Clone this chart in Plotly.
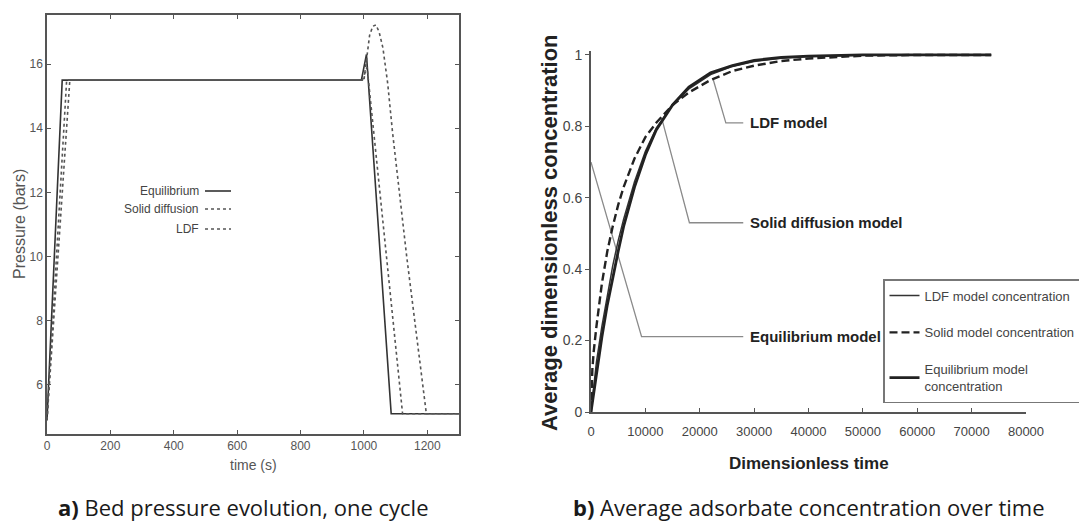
import plotly.graph_objects as go

# ---------------- data: panel a (bed pressure, one cycle) ----------------
eq_time = [0, 48, 992, 1008, 1086, 1300]
eq_pressure = [4.9, 15.5, 15.5, 16.3, 5.1, 5.1]

sd_time = [0, 62, 995, 1010, 1122, 1300]
sd_pressure = [4.9, 15.5, 15.5, 15.9, 5.1, 5.1]

ldf_time = [0, 72, 1000, 1008, 1018, 1028, 1038, 1048, 1060, 1075, 1090, 1135, 1197, 1300]
ldf_pressure = [4.9, 15.5, 15.5, 16.2, 16.9, 17.18, 17.22, 17.0, 16.5, 15.4, 13.9, 10.0, 5.1, 5.1]

a_xticks = [0, 200, 400, 600, 800, 1000, 1200]
a_yticks = [6, 8, 10, 12, 14, 16]
a_legend_names = ["Equilibrium", "Solid diffusion", "LDF"]

# ---------------- data: panel b (average adsorbate concentration) ----------------
eqm_t = [0, 1000, 2000, 3000, 4000, 5000, 6000, 8000, 10000, 12000, 15000, 18000,
         22000, 26000, 30000, 35000, 40000, 50000, 60000, 73600]
eqm_c = [0, 0.11, 0.21, 0.30, 0.38, 0.45, 0.52, 0.63, 0.72, 0.79, 0.86, 0.91,
         0.95, 0.97, 0.985, 0.993, 0.997, 1.0, 1.0, 1.0]

ldfm_t = eqm_t
ldfm_c = [0, 0.14, 0.24, 0.33, 0.41, 0.48, 0.54, 0.645, 0.73, 0.795, 0.86, 0.905,
          0.945, 0.968, 0.982, 0.991, 0.996, 1.0, 1.0, 1.0]

sdm_t = [0, 250, 500, 1000, 2000, 3000, 4000, 5000, 6000, 8000, 10000, 12000, 15000,
         18000, 22000, 26000, 30000, 35000, 40000, 45000, 50000, 60000, 73600]
sdm_c = [0, 0.12, 0.17, 0.24, 0.36, 0.45, 0.52, 0.58, 0.63, 0.71, 0.77, 0.81, 0.86,
         0.895, 0.93, 0.955, 0.97, 0.983, 0.99, 0.995, 0.998, 1.0, 1.0]

b_xticks = [0, 10000, 20000, 30000, 40000, 50000, 60000, 70000, 80000]
b_xticktext = ["0", "10000", "20000", "30000", "40000", "50000", "60000", "70000", "80000"]
b_yticks = [0, 0.2, 0.4, 0.6, 0.8, 1]
b_yticktext = ["0", "0.2", "0.4", "0.6", "0.8", "1"]

# callout leader lines (data coordinates of panel b) and their labels
callout_labels = ["LDF model", "Solid diffusion model", "Equilibrium model"]
callout_t = [[22500, 24800, 28000], [13000, 18100, 28000], [0, 9300, 28000]]
callout_c = [[0.930, 0.810, 0.810], [0.823, 0.530, 0.530], [0.700, 0.211, 0.211]]
callout_text_t = 28900

W, H = 1079, 532
def px(x):
    return x / W
def py(y):
    return 1 - y / H

fig = go.Figure()

AX = "#555555"
TICKFONT = dict(family="Liberation Sans Narrow, Arial Narrow, Arial, sans-serif", size=12, color="#555555")

# ---- panel a traces
fig.add_trace(go.Scatter(x=eq_time, y=eq_pressure, mode="lines", xaxis="x", yaxis="y",
                         line=dict(color="#333333", width=1.6), showlegend=False))
fig.add_trace(go.Scatter(x=sd_time, y=sd_pressure, mode="lines", xaxis="x", yaxis="y",
                         line=dict(color="#555555", width=1.6, dash="dot"), showlegend=False))
fig.add_trace(go.Scatter(x=ldf_time, y=ldf_pressure, mode="lines", xaxis="x", yaxis="y",
                         line=dict(color="#555555", width=1.6, dash="3px,3px"), showlegend=False))

# ---- panel b callouts
for tt, cc in zip(callout_t, callout_c):
    fig.add_trace(go.Scatter(x=tt, y=cc, mode="lines", xaxis="x2", yaxis="y2",
                             line=dict(color="#8a8a8a", width=1.3), showlegend=False,
                             hoverinfo="skip"))

# ---- panel b traces
fig.add_trace(go.Scatter(x=ldfm_t, y=ldfm_c, mode="lines", xaxis="x2", yaxis="y2",
                         name="LDF model concentration", legend="legend",
                         legendgroup="g1",
                         line=dict(color="#333333", width=1.5)))
fig.add_trace(go.Scatter(x=sdm_t, y=sdm_c, mode="lines", xaxis="x2", yaxis="y2",
                         name="Solid model concentration", legend="legend",
                         legendgroup="g2",
                         line=dict(color="#222222", width=2.4, dash="8px,4px")))
fig.add_trace(go.Scatter(x=eqm_t, y=eqm_c, mode="lines", xaxis="x2", yaxis="y2",
                         name="Equilibrium model<br>concentration", legend="legend",
                         legendgroup="g3",
                         line=dict(color="#222222", width=2.8)))

annotations = []
# callout labels
for lab, cc in zip(callout_labels, callout_c):
    annotations.append(dict(x=callout_text_t, y=cc[-1], xref="x2", yref="y2", text="<b>" + lab + "</b>",
                            showarrow=False, xanchor="left", yanchor="middle",
                            font=dict(family="Arial, Liberation Sans, sans-serif", size=15,
                                      color="#222222"),
                            ))
# manual legend for panel a
leg_y = [191, 209, 229]
leg_dash = ["solid", "dot", "3px,3px"]
leg_col = ["#333333", "#555555", "#555555"]
shapes = []
for name, yy, dd, cl in zip(a_legend_names, leg_y, leg_dash, leg_col):
    annotations.append(dict(x=px(201), y=py(yy), xref="paper", yref="paper", text=name,
                            showarrow=False, xanchor="right", yanchor="middle",
                            font=dict(family="Liberation Sans Narrow, Arial Narrow, Arial", size=12,
                                      color="#444444")))
    shapes.append(dict(type="line", xref="paper", yref="paper", x0=px(205), x1=px(231),
                       y0=py(yy), y1=py(yy), line=dict(color=cl, width=1.6, dash=dd)))

def centered(xp, yp, text, font, angle=0):
    return dict(x=px(xp), y=py(yp), xref="paper", yref="paper", text=text,
                textangle=angle, showarrow=False, xanchor="center", yanchor="middle",
                font=font)

# axis titles
annotations.append(centered(19, 224, "Pressure (bars)",
                            dict(family="Arial, Liberation Sans", size=16, color="#555555"), -90))
annotations.append(centered(253, 465, "time (s)",
                            dict(family="Arial, Liberation Sans", size=14, color="#555555")))
annotations.append(centered(549, 233, "<b>Average dimensionless concentration</b>",
                            dict(family="Arial, Liberation Sans", size=22, color="#222222"), -90))
annotations.append(centered(809, 463, "<b>Dimensionless time</b>",
                            dict(family="Arial, Liberation Sans", size=17, color="#222222")))
# captions
annotations.append(centered(243, 507, "<b>a)</b> Bed pressure evolution, one cycle",
                            dict(family="Open Sans, Noto Sans, sans-serif", size=22, color="#1a1a1a")))
annotations.append(centered(809, 507, "<b>b)</b> Average adsorbate concentration over time",
                            dict(family="Open Sans, Noto Sans, sans-serif", size=22, color="#1a1a1a")))

fig.update_layout(
    width=W, height=H, autosize=False,
    margin=dict(l=0, r=0, t=0, b=0, pad=0, autoexpand=False),
    paper_bgcolor="white", plot_bgcolor="white",
    annotations=annotations, shapes=shapes,
    xaxis=dict(domain=[px(47), px(459)], range=[0, 1300], tickvals=a_xticks,
               showline=True, linecolor=AX, linewidth=1.5, mirror="ticks",
               ticks="inside", ticklen=4, tickcolor=AX, tickwidth=1.2,
               showgrid=False, zeroline=False, tickfont=TICKFONT, anchor="y",
               automargin=False),
    yaxis=dict(domain=[py(434), py(15)], range=[4.47, 17.53], tickvals=a_yticks,
               showline=True, linecolor=AX, linewidth=1.5, mirror="ticks",
               ticks="inside", ticklen=4, tickcolor=AX, tickwidth=1.2,
               showgrid=False, zeroline=False, tickfont=TICKFONT, anchor="x",
               automargin=False),
    xaxis2=dict(domain=[px(591), px(1026)], range=[0, 80000], tickvals=b_xticks,
                ticktext=b_xticktext,
                showline=True, linecolor=AX, linewidth=1.8,
                ticks="inside", ticklen=4, tickcolor=AX, tickwidth=1.2,
                ticklabelstandoff=6,
                showgrid=False, zeroline=False, anchor="y2", automargin=False,
                tickfont=dict(family="Arial, Liberation Sans", size=13, color="#444444")),
    yaxis2=dict(domain=[py(412), py(51.4)], range=[0, 1.01], tickvals=b_yticks,
                ticktext=b_yticktext,
                showline=True, linecolor=AX, linewidth=1.8,
                ticks="outside", ticklen=4, tickcolor=AX, tickwidth=1.2,
                showgrid=False, zeroline=False, anchor="x2", automargin=False,
                tickfont=dict(family="Arial, Liberation Sans", size=14, color="#444444")),
    legend=dict(xref="paper", yref="paper", x=px(883), y=py(279),
                xanchor="left", yanchor="top",
                bgcolor="white", bordercolor="#777777", borderwidth=1.5,
                tracegroupgap=17, traceorder="grouped",
                font=dict(family="Arial, Liberation Sans", size=13, color="#444444")),
    showlegend=True,
)

fig.write_html("out.html")
